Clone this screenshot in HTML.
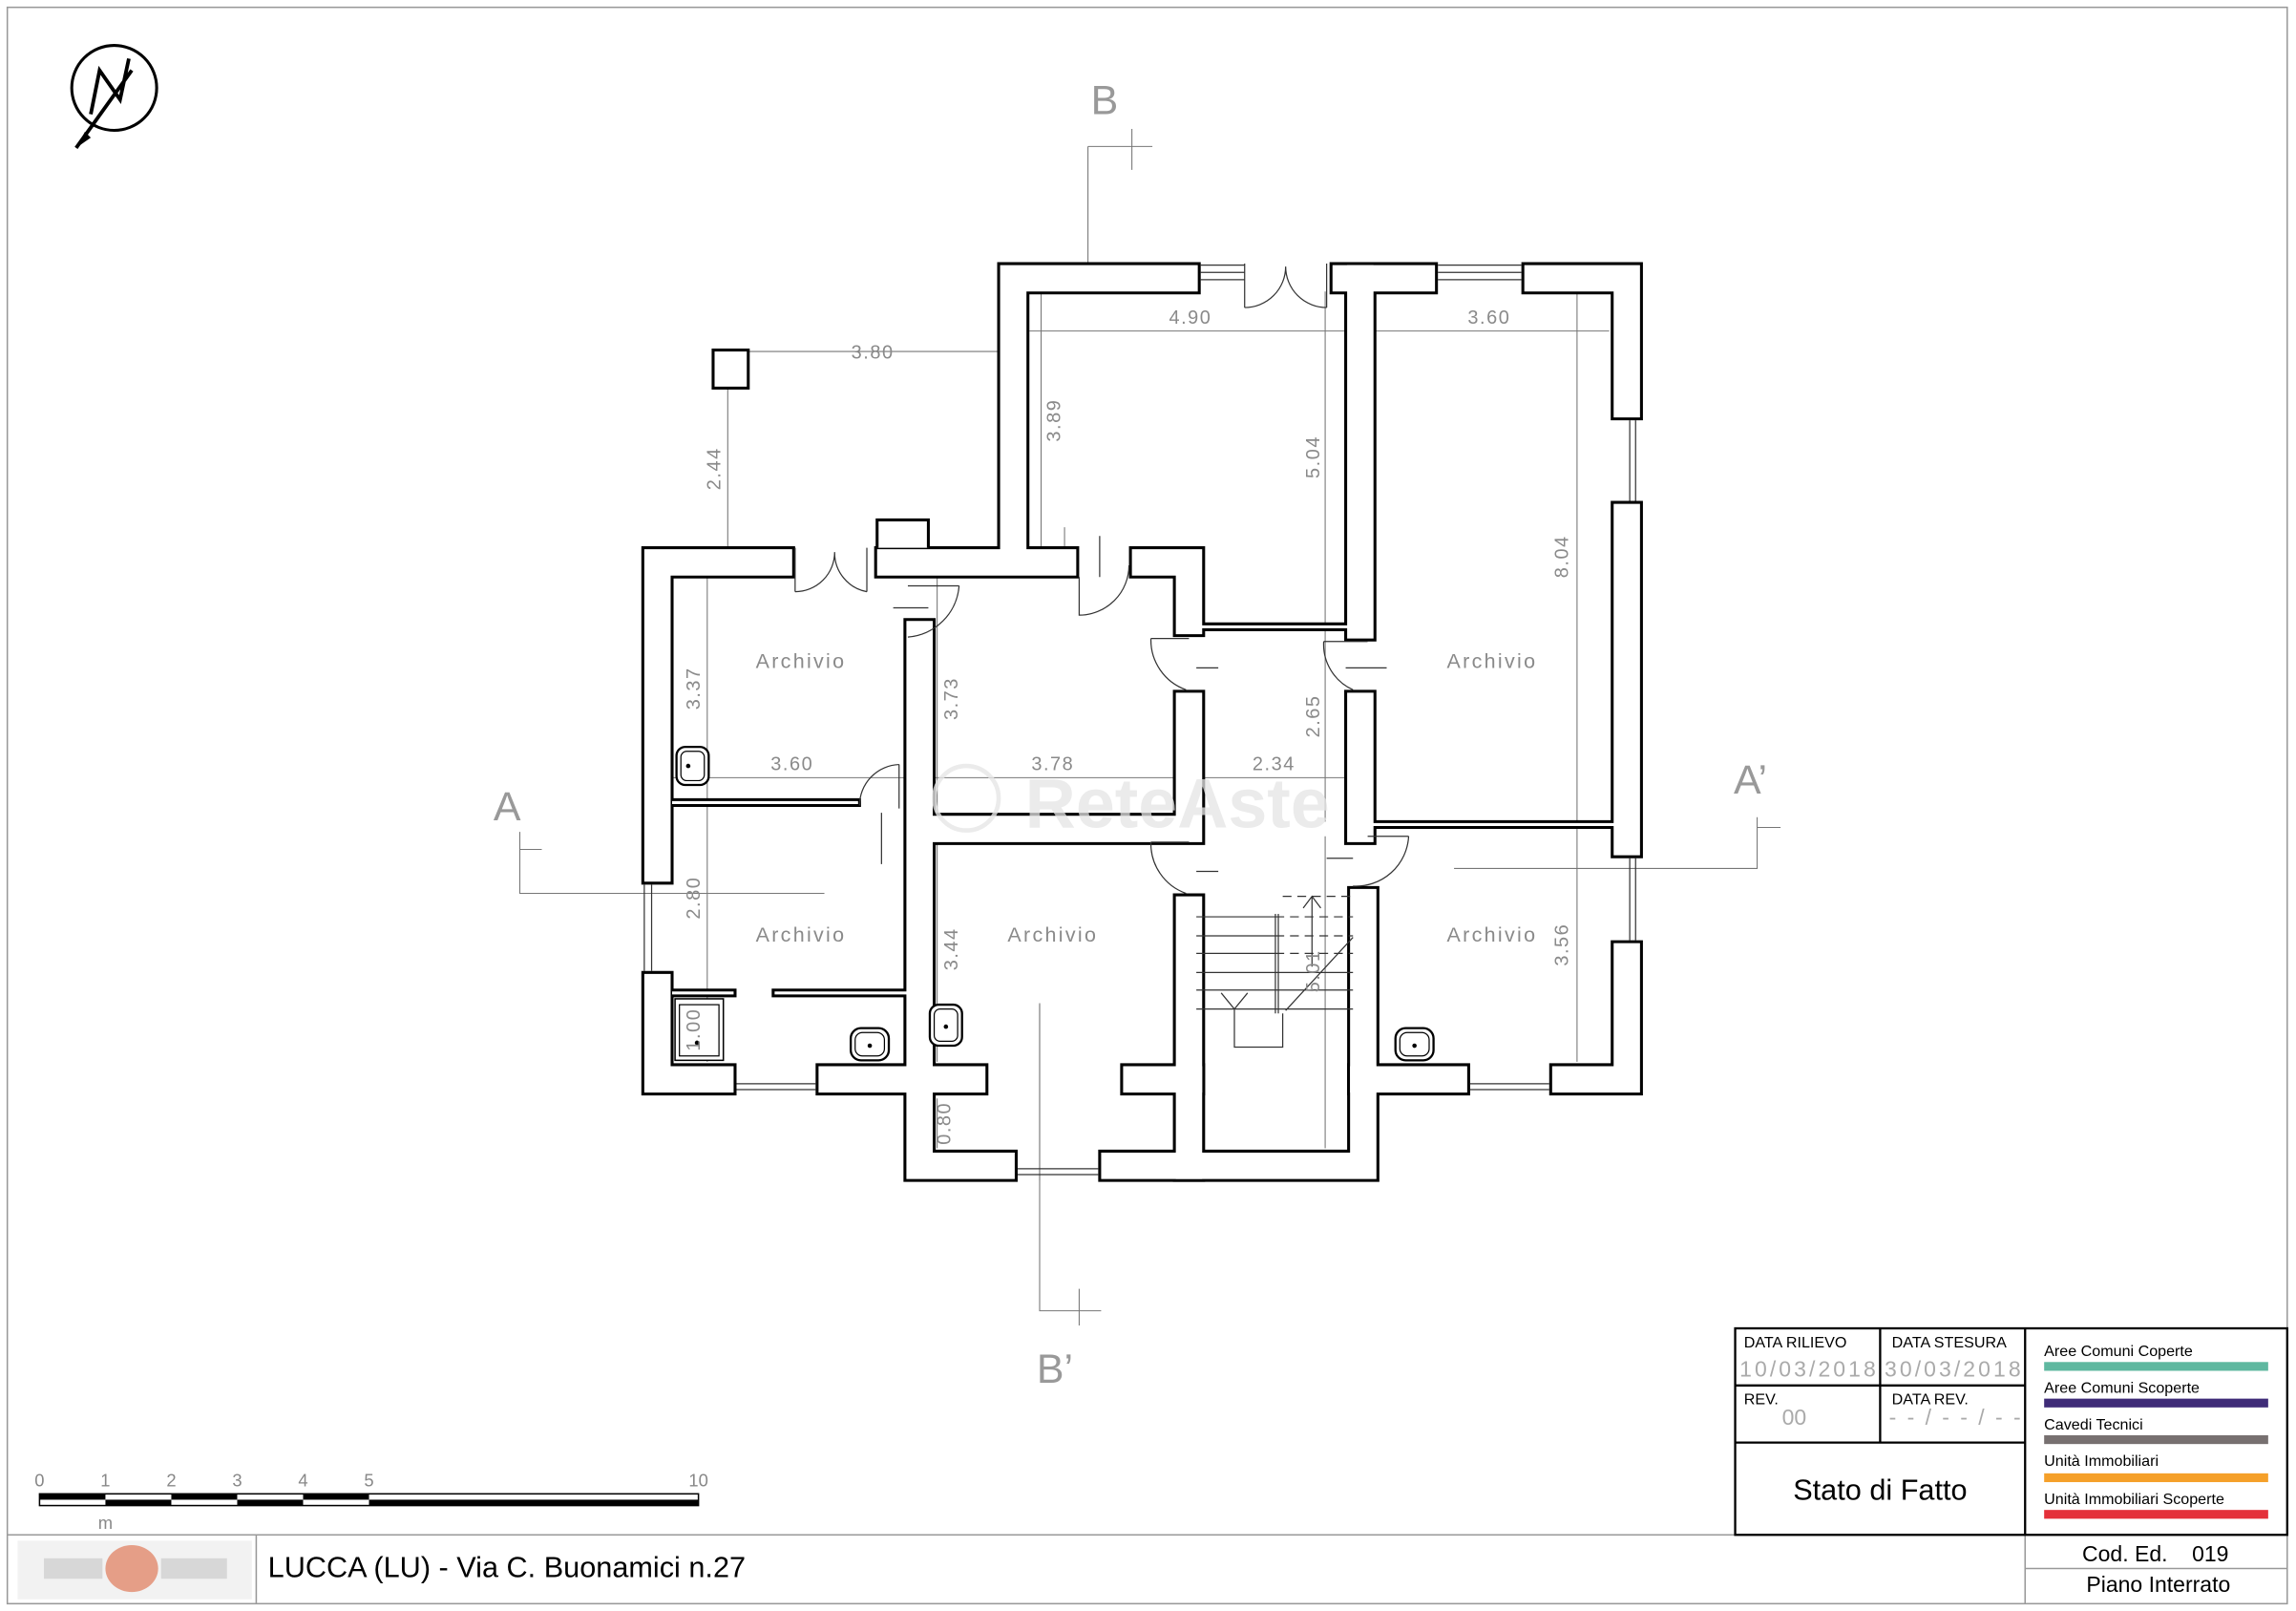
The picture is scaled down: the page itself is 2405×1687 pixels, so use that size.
<!DOCTYPE html>
<html><head><meta charset="utf-8"><style>
html,body{margin:0;padding:0;background:#fff;}
svg{display:block;}
text{font-family:"Liberation Sans",sans-serif;}
.dim{fill:#8a8a8a;font-size:13px;letter-spacing:1px;}
.rm{fill:#8a8a8a;font-size:14px;letter-spacing:1.5px;}
.th{stroke:#777;stroke-width:0.7;fill:none;}
.dr{stroke:#333;stroke-width:0.8;fill:none;}
</style></head><body>
<svg width="2405" height="1687" viewBox="0 0 1568 1100" preserveAspectRatio="none" xmlns="http://www.w3.org/2000/svg">
<rect x="0" y="0" width="1568" height="1100" fill="#fff"/>
<rect x="5" y="5" width="1557" height="1090" fill="none" stroke="#999" stroke-width="1"/>

<!-- north arrow -->
<circle cx="78" cy="60" r="29" fill="none" stroke="#000" stroke-width="2"/>
<path d="M62,78 L68,48 L82,68 L88,40 M90,48 L52,101" stroke="#000" stroke-width="2.5" fill="none"/>
<path d="M52,101 L58,90 L62,94 Z" fill="#000"/>

<!-- section lines -->
<g class="th" stroke="#666">
<path d="M743,100 V195 M743,100 H787 M773,88 V116"/>
<path d="M710,685 V895 H752 M737,880 V905"/>
<path d="M355,568 V610 H563 M355,580 H370"/>
<path d="M993,593 H1200 V558 M1200,565 H1216"/>
</g>
<text x="745" y="78" fill="#999" font-size="28">B</text>
<text x="708" y="944" fill="#999" font-size="28">B’</text>
<text x="337" y="560" fill="#999" font-size="28">A</text>
<text x="1184" y="542" fill="#999" font-size="28">A’</text>

<!-- dimension lines -->
<g class="th">
<path d="M497,240 H682 M703,226 H924 M936,226 H1099 M460,531 H634 M634,531 H805 M817,531 H924"/>
<path d="M497,265 V374 M711,199 V374 M905,199 V426 M1077,199 V561 M483,394 V548 M640,394 V561 M905,430 V561 M483,548 V678 M640,571 V725 M1077,566 V725 M905,571 V784 M483,678 V725 M640,750 V784"/>
<path d="M727,360 V374 M710,686 V806"/>
</g>

<!-- walls -->
<defs>
<g id="W">
<path d="M532,384 H449 V593 M449,674 V737 H492 M568,737 H628 V796 H684 M761,796 H931 V737 H993 M1069,737 H1111 V653 M1111,575 V353 M1111,276 V190 H1050 M971,190 H919 M809,190 H692 V384 H726 M608,384 H692"/>
<path d="M782,384 H812 V424 M812,482 V566 H628 M929,190 V427 M929,482 V566 M812,621 V796 M931,616 V737 M628,433 V737"/>
<path d="M628,737 H664 M776,737 H812"/>
</g>
<g id="T">
<path d="M812,428 H929 M929,563 H1111 M460,548 H585 M460,678 H500 M530,678 H623"/>
</g>
</defs>
<g fill="none" stroke-linecap="square" stroke-linejoin="miter">
<use href="#W" stroke="#000" stroke-width="22"/>
<use href="#T" stroke="#000" stroke-width="6"/>
<use href="#W" stroke="#fff" stroke-width="18"/>
<use href="#T" stroke="#fff" stroke-width="2"/>
</g>
<rect x="487" y="239" width="24" height="26" fill="#fff" stroke="#000" stroke-width="2"/>
<path d="M599,374 V355 H634 V374" fill="#fff" stroke="#000" stroke-width="2"/>

<!-- windows -->
<g class="dr">
<path d="M820,181 H850 M820,186 H850 M820,191 H850 M982,181 H1039 M982,186 H1039 M982,191 H1039"/>
<path d="M1113,287 V342 M1117,287 V342 M1113,586 V642 M1117,586 V642 M440,604 V663 M445,604 V663"/>
<path d="M503,740 H557 M503,744 H557 M1004,740 H1058 M1004,744 H1058 M695,798 H750 M695,802 H750"/>
</g>

<!-- doors -->
<g class="dr">
<path d="M850,210 V180 M850,210 A28,28 0 0 0 878,182 M906,210 V180 M906,210 A28,28 0 0 1 878,182"/>
<path d="M543,404 V374 M543,404 A27,27 0 0 0 570,377 M592,404 V374 M592,404 A27,27 0 0 1 570,377"/>
<path d="M737,394 V420 A34,34 0 0 0 771,386 M751,366 V394"/>
<path d="M620,400 H655 M655,400 A38,38 0 0 1 620,435 M610,415 H634"/>
<path d="M786,436 H812 M786,436 A36,36 0 0 0 810,471 M817,456 H832"/>
<path d="M904,438 H934 M904,438 A34,34 0 0 0 924,471 M919,456 H947"/>
<path d="M786,575 H812 M786,575 A36,36 0 0 0 810,610 M817,595 H832"/>
<path d="M934,571 H962 M962,571 A36,36 0 0 1 924,605 M906,586 H924"/>
<path d="M614,522 A28,28 0 0 0 587,550 M614,522 V552 M602,555 V590"/>
</g>

<!-- stairs -->
<g class="dr" stroke="#222">
<path d="M817,626 H871 M817,639 H871 M817,651 H871 M817,664 H924 M817,676 H924 M817,689 H924"/>
<path d="M871,626 H924 M871,639 H924 M871,651 H924" stroke-dasharray="6,4"/>
<path d="M871,624 V692 M873,624 V692"/>
<path d="M843,689 V715 H876 V692"/>
<path d="M834,678 L843,689 L852,678"/>
<path d="M896,612 V660 M890,620 L896,612 L902,620 M878,690 L924,640"/>
<path d="M876,612 H924" stroke-dasharray="6,4"/>
</g>

<!-- sanitary -->
<g fill="#fff" stroke="#000" stroke-width="1.5">
<rect x="462" y="510" width="22" height="26" rx="6"/>
<rect x="465" y="513" width="16" height="20" rx="4" stroke-width="0.8"/>
<rect x="581" y="702" width="26" height="22" rx="7"/>
<rect x="584" y="705" width="20" height="16" rx="5" stroke-width="0.8"/>
<rect x="635" y="686" width="22" height="28" rx="6"/>
<rect x="638" y="689" width="16" height="22" rx="4" stroke-width="0.8"/>
<rect x="953" y="702" width="26" height="22" rx="7"/>
<rect x="956" y="705" width="20" height="16" rx="5" stroke-width="0.8"/>
<rect x="461" y="682" width="33" height="42" stroke-width="1"/>
<rect x="464" y="686" width="27" height="35" stroke-width="0.8"/>
</g>
<g fill="#000"><circle cx="470" cy="523" r="1.5"/><circle cx="594" cy="714" r="1.5"/><circle cx="646" cy="701" r="1.5"/><circle cx="966" cy="714" r="1.5"/><circle cx="476" cy="712" r="1.5"/></g>

<!-- labels -->
<g class="rm">
<text x="547" y="456" text-anchor="middle">Archivio</text>
<text x="547" y="643" text-anchor="middle">Archivio</text>
<text x="719" y="643" text-anchor="middle">Archivio</text>
<text x="1019" y="456" text-anchor="middle">Archivio</text>
<text x="1019" y="643" text-anchor="middle">Archivio</text>
</g>
<g class="dim" text-anchor="middle">
<text x="596" y="245">3.80</text>
<text x="813" y="221">4.90</text>
<text x="1017" y="221">3.60</text>
<text x="541" y="526">3.60</text>
<text x="719" y="526">3.78</text>
<text x="870" y="526">2.34</text>
<text transform="translate(492,320) rotate(-90)">2.44</text>
<text transform="translate(724,287) rotate(-90)">3.89</text>
<text transform="translate(901,312) rotate(-90)">5.04</text>
<text transform="translate(1071,380) rotate(-90)">8.04</text>
<text transform="translate(478,470) rotate(-90)">3.37</text>
<text transform="translate(654,477) rotate(-90)">3.73</text>
<text transform="translate(901,489) rotate(-90)">2.65</text>
<text transform="translate(478,613) rotate(-90)">2.80</text>
<text transform="translate(654,648) rotate(-90)">3.44</text>
<text transform="translate(1071,645) rotate(-90)">3.56</text>
<text transform="translate(901,663) rotate(-90)">5.01</text>
<text transform="translate(478,703) rotate(-90)">1.00</text>
<text transform="translate(649,767) rotate(-90)">0.80</text>
</g>

<!-- watermark -->
<text x="700" y="565" fill="#e4e4e4" fill-opacity="0.75" font-size="48" font-weight="bold">ReteAste</text>
<circle cx="660" cy="545" r="22" fill="none" stroke="#e6e6e6" stroke-width="3" opacity="0.8"/>

<!-- scale bar -->
<rect x="27" y="1020" width="450" height="8" fill="#fff" stroke="#000" stroke-width="1"/>
<g fill="#000"><rect x="27" y="1020" width="45" height="4"/><rect x="72" y="1024" width="45" height="4"/><rect x="117" y="1020" width="45" height="4"/><rect x="162" y="1024" width="45" height="4"/><rect x="207" y="1020" width="45" height="4"/><rect x="252" y="1024" width="225" height="4"/></g>
<g fill="#888" font-size="12" text-anchor="middle">
<text x="27" y="1015">0</text><text x="72" y="1015">1</text><text x="117" y="1015">2</text><text x="162" y="1015">3</text><text x="207" y="1015">4</text><text x="252" y="1015">5</text><text x="477" y="1015">10</text><text x="72" y="1044">m</text>
</g>

<!-- bottom strip -->
<path d="M5,1048 H1562 M175,1048 V1095 M1383,1048 V1095 M1383,1071 H1562" stroke="#999" stroke-width="1" fill="none"/>
<rect x="12" y="1052" width="160" height="40" fill="#f2f2f2"/>
<ellipse cx="90" cy="1071" rx="18" ry="16" fill="#e07a5a" opacity="0.7"/>
<rect x="30" y="1064" width="40" height="14" fill="#ccc" opacity="0.7"/>
<rect x="110" y="1064" width="45" height="14" fill="#ccc" opacity="0.7"/>
<text x="183" y="1077" font-size="20" fill="#000">LUCCA (LU) - Via C. Buonamici n.27</text>
<text x="1472" y="1066" font-size="15" text-anchor="middle" fill="#000">Cod. Ed. &#160;&#160;&#160;019</text>
<text x="1474" y="1087" font-size="15" text-anchor="middle" fill="#000">Piano Interrato</text>

<!-- title block -->
<rect x="1185" y="907" width="377" height="141" fill="#fff" stroke="#000" stroke-width="1.5"/>
<path d="M1383,907 V1048 M1284,907 V985 M1185,946 H1383 M1185,985 H1383" stroke="#000" stroke-width="1.5"/>
<g font-size="10.5" fill="#000">
<text x="1191" y="920">DATA RILIEVO</text>
<text x="1292" y="920">DATA STESURA</text>
<text x="1191" y="959">REV.</text>
<text x="1292" y="959">DATA REV.</text>
</g>
<g font-size="15" fill="#aaa">
<text x="1188" y="940" textLength="93">10/03/2018</text>
<text x="1287" y="940" textLength="93">30/03/2018</text>
<text x="1217" y="973">00</text>
<text x="1290" y="973" textLength="90">--/--/--</text>
</g>
<text x="1284" y="1024" font-size="20" text-anchor="middle" fill="#000">Stato di Fatto</text>
<g font-size="10.5" fill="#000">
<text x="1396" y="926">Aree Comuni Coperte</text>
<text x="1396" y="951">Aree Comuni Scoperte</text>
<text x="1396" y="976">Cavedi Tecnici</text>
<text x="1396" y="1001">Unità Immobiliari</text>
<text x="1396" y="1027">Unità Immobiliari Scoperte</text>
</g>
<rect x="1396" y="930" width="153" height="6" fill="#5fb8a0"/>
<rect x="1396" y="955" width="153" height="6" fill="#3f2c78"/>
<rect x="1396" y="980" width="153" height="6" fill="#777070"/>
<rect x="1396" y="1006" width="153" height="6" fill="#f5a02a"/>
<rect x="1396" y="1031" width="153" height="6" fill="#e4303a"/>
</svg>
</body></html>
